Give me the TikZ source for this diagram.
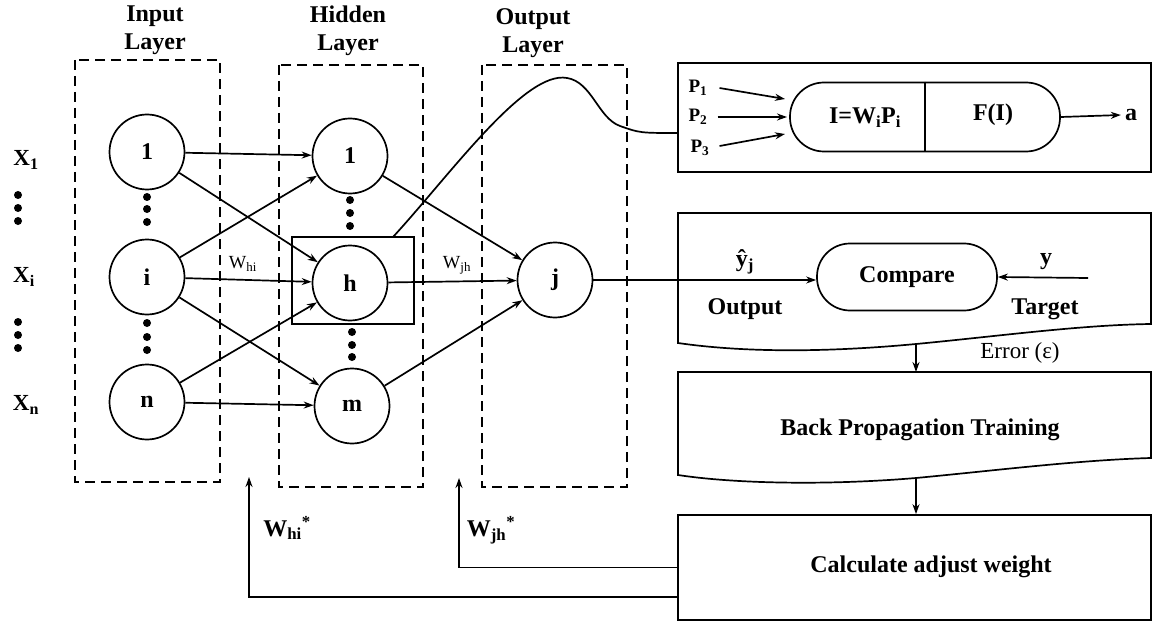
\documentclass[tikz,border=0pt]{standalone}
\usepackage{fontspec}
\setmainfont{Liberation Serif}
\usetikzlibrary{arrows.meta}
\begin{document}
\begin{tikzpicture}[x=1pt,y=-1pt,line width=1.7pt,
  big/.style={font=\fontsize{24}{28}\selectfont\bfseries},
  neuron/.style={draw,circle,minimum size=75pt,inner sep=0pt,big},
  layerbox/.style={draw,dash pattern=on 10pt off 6pt,line width=1.7pt},
  ttl/.style={big,align=center},
  arr/.style={-{Stealth[length=10pt,width=7pt]}},
  vdot/.style={fill,circle,inner sep=0pt,minimum size=8pt},
  lbl/.style={font=\fontsize{18.5}{20}\selectfont},
  plabel/.style={font=\fontsize{19}{20}\selectfont\bfseries},
  pill/.style={draw,inner sep=0pt}
]
\useasboundingbox (0,0) rectangle (1152,623);

% titles
\node[ttl] (tin) at (155,30) {Input\\Layer};
\node[ttl] (thid) at (348,31) {Hidden\\Layer};
\node[ttl] (tout) at (533,33) {Output\\Layer};

% layer boxes
\draw[layerbox] (75,60) rectangle (220,482);
\draw[layerbox] (279,65) rectangle (423,487);
\draw[layerbox] (482,65) rectangle (627,487);

% x labels
\node[big,font=\fontsize{23}{26}\selectfont\bfseries] (x1) at (26,160) {X\textsubscript{1}};
\node[big,font=\fontsize{23}{26}\selectfont\bfseries] (xi) at (24,277) {X\textsubscript{i}};
\node[big,font=\fontsize{23}{26}\selectfont\bfseries] (xn) at (26,405) {X\textsubscript{n}};
\foreach \y [count=\k] in {195,208,221} \node[vdot] (xa\k) at (18,\y) {};
\foreach \y [count=\k] in {322,335,348} \node[vdot] (xb\k) at (18,\y) {};

% input nodes
\node[neuron] (in1) at (147,152) {1};
\node[neuron] (ini) at (147,277) {i};
\node[neuron] (inn) at (147,402) {n};
\foreach \y [count=\k] in {197,209,222} \node[vdot] (ia\k) at (147,\y) {};
\foreach \y [count=\k] in {323,337,350} \node[vdot] (ib\k) at (147,\y) {};

% hidden nodes
\node[neuron] (h1) at (350,156) {1};
\node[neuron] (hh) at (350,283) {h};
\node[neuron] (hm) at (352,406) {m};
\foreach \y [count=\k] in {200,213,226} \node[vdot] (ha\k) at (350,\y) {};
\foreach \y [count=\k] in {332,345,357} \node[vdot] (hb\k) at (352,\y) {};
\node[draw,minimum width=122pt,minimum height=87pt,inner sep=0pt] (hbox) at (353,280.5) {};

% output node
\node[neuron] (oj) at (555,280) {j};

% input -> hidden
\draw[arr] (in1) -- (h1);
\draw[arr] (in1) -- (hh);
\draw[arr] (ini) -- (h1);
\draw[arr] (ini) -- (hh);
\draw[arr] (ini) -- (hm);
\draw[arr] (inn) -- (hh);
\draw[arr] (inn) -- (hm);
% hidden -> output
\draw[arr] (h1) -- (oj);
\draw[arr] (hh) -- (oj);
\draw[arr] (hm) -- (oj);

\node[lbl] (whi) at (243,264) {W\textsubscript{hi}};
\node[lbl] (wjh) at (457,265) {W\textsubscript{jh}};

% neuron model box
\node[draw,minimum width=473pt,minimum height=109pt,inner sep=0pt] (tbox) at (914.5,117.5) {};
\coordinate (cstart) at (393,237);
\coordinate (cend) at (678,133);
\draw (cstart) .. controls (450,175) and (525,70) .. (567,78)
      .. controls (592,82) and (598,118) .. (620,126)
      .. controls (640,133) .. (cend);
\node[draw,minimum width=270pt,minimum height=69pt,rounded corners=34pt,inner sep=0pt] (neur) at (925,117) {};
\draw (neur.north) -- (neur.south);
\node[big] (sumt) at (865,118) {I=W\textsubscript{i}P\textsubscript{i}};
\node[big] (fit) at (993,115) {F(I)};
\node[plabel] (p1) at (698,88) {P\textsubscript{1}};
\node[plabel] (p2) at (698,117) {P\textsubscript{2}};
\node[plabel] (p3) at (700,148) {P\textsubscript{3}};
\coordinate (p1e) at (785,99);
\coordinate (p2e) at (787,117);
\coordinate (p3e) at (785,134);
\draw[arr] (p1.east) ++(8,0) coordinate (p1s) -- (p1e);
\draw[arr] (p2.east) ++(6,0) coordinate (p2s) -- (p2e);
\draw[arr] (p3.east) ++(6,-2) coordinate (p3s) -- (p3e);
\node[big] (aout) at (1131,115) {a};
\draw[arr] (neur.east) -- (aout.west);

% compare box
\draw (1151,213) -- (678,213) -- (678,343)
  .. controls (740,352) and (820,353) .. (916,344)
  .. controls (1000,336) and (1080,325) .. (1151,324) -- cycle;
\node[draw,minimum width=180pt,minimum height=67pt,rounded corners=33pt,big] (cmp) at (907,277) {Compare};
\draw[arr] (oj.east) -- (oj.east -| cmp.west);
\coordinate (tgt) at (1088,278);
\draw[arr] (tgt) -- (cmp.east);
\node[big] (yhat) at (745,262) {ŷ\textsubscript{j}};
\node[big] (outl) at (745,309) {Output};
\node[big] (yt) at (1046,262) {y};
\node[big] (tgtl) at (1045,309) {Target};

% back propagation box
\draw (1151,372) -- (678,372) -- (678,475)
  .. controls (730,483) and (820,486) .. (916,478)
  .. controls (1000,470) and (1080,460) .. (1151,458) -- cycle;
\node[big] (bpt) at (920,430) {Back Propagation Training};
\coordinate (e1) at (916,345);
\coordinate (bptop) at (916,372);
\draw[arr] (e1) -- (bptop);
\node[font=\fontsize{23}{26}\selectfont] (err) at (1020,353) {Error (ε)};

% calculate box
\node[draw,minimum width=473pt,minimum height=105pt,inner sep=0pt] (calc) at (914.5,567.5) {};
\node[big] (calct) at (931,567) {Calculate adjust weight};
\coordinate (e2) at (916,478);
\draw[arr] (e2) -- (calc.north -| e2);

% feedback
\coordinate (fbj) at (459,478);
\coordinate (fbi) at (249,477);
\coordinate (c597) at (0,597);
\draw[arr] (calc.west) -| (fbj);
\draw[arr] (calc.west |- c597) -| (fbi);
\node[big] (wjhs) at (491,530) {W\textsubscript{jh}\textsuperscript{*}};
\node[big] (whis) at (287,528) {W\textsubscript{hi}\textsuperscript{*}};
\end{tikzpicture}
\end{document}
